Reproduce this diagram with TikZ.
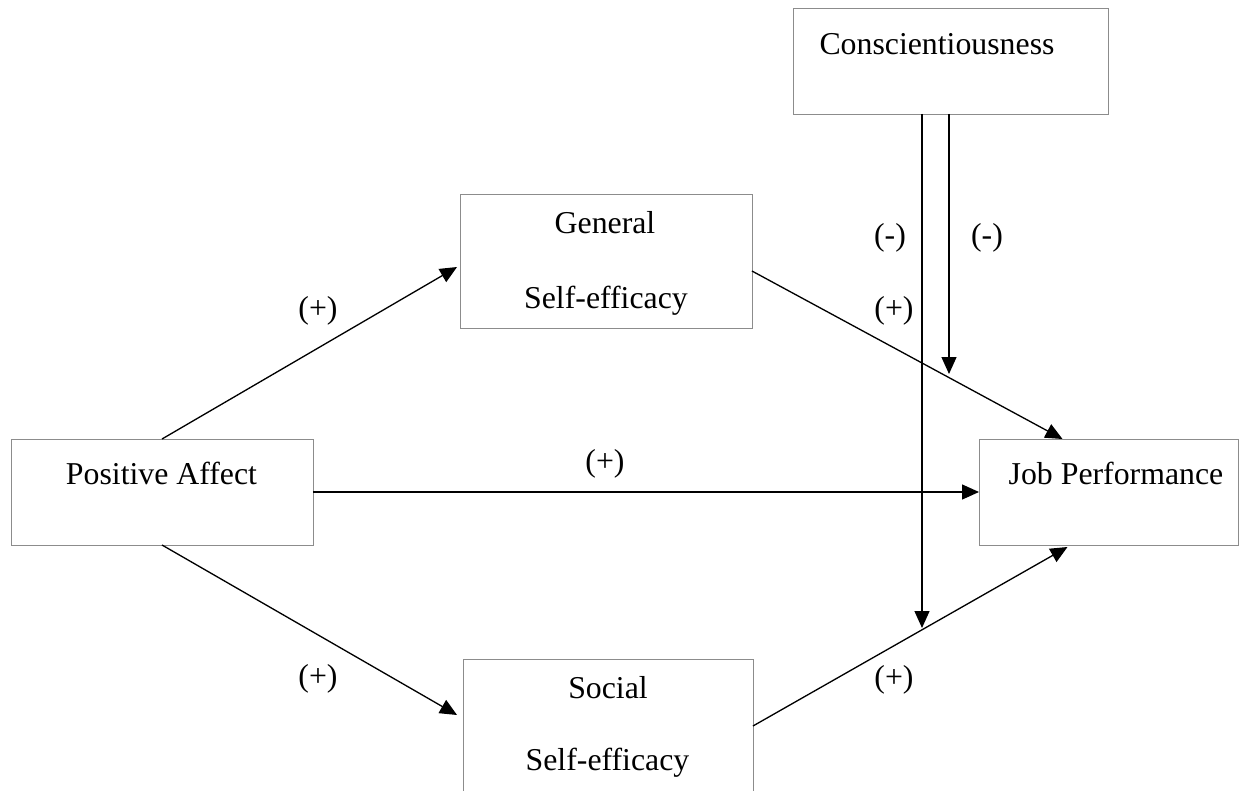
\documentclass[tikz,border=0pt]{standalone}
\usepackage{fontspec}
\setmainfont{Liberation Serif}
\usetikzlibrary{positioning, calc, arrows.meta}

\begin{document}
\begin{tikzpicture}[x=0.02cm, y=-0.02cm,
    box/.style={draw=black!45, line width=0.5pt, inner sep=0pt, outer sep=0pt},
    lbl/.style={font=\fontsize{18.1}{22}\selectfont, inner sep=0pt, anchor=base},
    link/.style={line width=0.75pt, -{Triangle[length=0.34cm,width=0.3cm]}}]
      \useasboundingbox (0,0) rectangle (1248,791);
      \clip (0,0) rectangle (1248,791);
      % boxes
      \node[box, minimum width=6.3cm, minimum height=2.12cm] (consc) at (950.5,61) {};
      \node[box, minimum width=5.84cm, minimum height=2.68cm] (gse) at (606,261) {};
      \node[box, minimum width=6.04cm, minimum height=2.12cm] (pa) at (162,492) {};
      \node[box, minimum width=5.18cm, minimum height=2.12cm] (jp) at (1108.5,492) {};
      \node[box, minimum width=5.8cm, minimum height=2.8cm] (sse) at (608,729) {};
      % box texts
      \node[lbl] (tconsc) at (937,54) {Conscientiousness};
      \node[lbl] (tgse1) at (605,233) {General};
      \node[lbl] (tgse2) at (606,308) {Self-efficacy};
      \node[lbl] (tpa) at (161.5,484) {Positive Affect};
      \node[lbl] (tjp) at (1116,484) {Job Performance};
      \node[lbl] (tsse1) at (608,698) {Social};
      \node[lbl] (tsse2) at (607.5,770) {Self-efficacy};
      % paths
      \draw[link] (pa.north) -- ($(gse.west)+(-3,6)$);
      \draw[link] (pa.east) -- (jp.west);
      \draw[link] (pa.south) -- ($(sse.west)+(-6,-14)$);
      \draw[link] ($(gse.east)+(0,10)$) -- ($(jp.north)+(-46,0)$);
      \draw[link] ($(sse.east)+(0,-3)$) -- ($(jp.south)+(-41,2)$);
      % moderation
      \coordinate (m1) at (922,628);
      \coordinate (m2) at (949,374);
      \draw[link] ($(consc.south)+(-28.5,0)$) -- (m1);
      \draw[link] ($(consc.south)+(-1.5,0)$) -- (m2);
      % signs
      \node[lbl] (s1) at (318,318) {(+)};
      \node[lbl] (s2) at (605,471) {(+)};
      \node[lbl] (s3) at (318,686) {(+)};
      \node[lbl] (s4) at (894,318) {(+)};
      \node[lbl] (s5) at (894,687) {(+)};
      \node[lbl] (s6) at (890,245) {(-)};
      \node[lbl] (s7) at (987,245) {(-)};
\end{tikzpicture}
\end{document}
